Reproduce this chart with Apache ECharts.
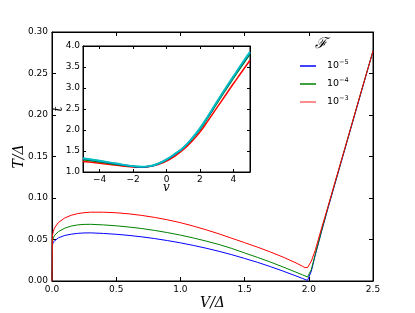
<!DOCTYPE html>
<html><head><meta charset="utf-8">
<script src="https://cdn.jsdelivr.net/npm/echarts@6/dist/echarts.min.js"></script>
<style>html,body{margin:0;padding:0;background:#fff}#c{width:415px;height:313px}</style>
</head><body><div id="c"></div>
<script>
// Main chart: T/Δ vs V/Δ
const V = [0, 0.003, 0.01, 0.02, 0.05, 0.1, 0.15, 0.2, 0.25, 0.3, 0.4, 0.5, 0.6, 0.7, 0.8, 0.9, 1.0, 1.1, 1.2, 1.3, 1.4, 1.5, 1.6, 1.7, 1.8, 1.9, 1.95, 1.97, 1.98, 1.99, 2.0, 2.02, 2.05, 2.1, 2.15, 2.2, 2.3, 2.4, 2.5];
const T_1e5 = [0, 0.043, 0.047, 0.049, 0.052, 0.0549, 0.0564, 0.0574, 0.0579, 0.0580, 0.0573, 0.0563, 0.0549, 0.0532, 0.0511, 0.0487, 0.0460, 0.0429, 0.0395, 0.0358, 0.0317, 0.0272, 0.0225, 0.0174, 0.0119, 0.0061, 0.0031, 0.0019, 0.0013, 0.0007, 0.0, 0.012, 0.031, 0.060, 0.088, 0.115, 0.169, 0.223, 0.277];
const T_1e4 = [0, 0.047, 0.052, 0.055, 0.0595, 0.0637, 0.0662, 0.0676, 0.0682, 0.0683, 0.0676, 0.0665, 0.0650, 0.0632, 0.0609, 0.0583, 0.0553, 0.0519, 0.0481, 0.0440, 0.0392, 0.0338, 0.0285, 0.0229, 0.0169, 0.0106, 0.0075, 0.0062, 0.0055, 0.0048, 0.0040, 0.014, 0.032, 0.061, 0.089, 0.116, 0.170, 0.224, 0.277];
const T_1e3 = [0, 0.054, 0.060, 0.064, 0.0705, 0.0760, 0.0792, 0.0812, 0.0823, 0.0829, 0.0829, 0.0822, 0.0809, 0.0790, 0.0766, 0.0737, 0.0703, 0.0662, 0.0617, 0.0568, 0.0515, 0.0462, 0.0408, 0.0350, 0.0288, 0.0218, 0.0178, 0.0162, 0.0157, 0.0162, 0.0178, 0.024, 0.037, 0.064, 0.090, 0.117, 0.170, 0.224, 0.277];
const seriesNames = ['10^-5', '10^-4', '10^-3'];
const legendTitle = 'ℱ';
// Inset: t vs v
const v = [-5, -4, -3, -2, -1.5, -1, -0.5, 0, 0.5, 1, 1.5, 2, 2.5, 3, 3.5, 4, 4.5, 5];
const t_cyan = [1.33, 1.27, 1.20, 1.14, 1.125, 1.14, 1.20, 1.30, 1.43, 1.58, 1.79, 2.04, 2.34, 2.66, 2.97, 3.27, 3.57, 3.86];
const t_blue = [1.32, 1.26, 1.195, 1.135, 1.122, 1.137, 1.197, 1.295, 1.425, 1.575, 1.785, 2.03, 2.33, 2.65, 2.96, 3.26, 3.56, 3.84];
const t_green = [1.29, 1.24, 1.18, 1.13, 1.12, 1.135, 1.195, 1.29, 1.42, 1.57, 1.77, 2.01, 2.31, 2.62, 2.93, 3.23, 3.52, 3.81];
const t_red = [1.25, 1.21, 1.16, 1.12, 1.115, 1.13, 1.18, 1.26, 1.38, 1.53, 1.72, 1.95, 2.23, 2.52, 2.81, 3.10, 3.38, 3.66];
const insetTicks = [-4, -2, 0, 2, 4];

const zip = (a, b) => a.map((x, i) => [x, b[i]]);
const FONT = 'DejaVu Sans';
const minus = s => String(s).replace('-', '\u2212');

const chart = echarts.init(document.getElementById('c'), null, {renderer: 'canvas'});
const lbl = {fontFamily: FONT, fontSize: 9, color: '#000'};
const frameLine = {show: true, onZero: false, lineStyle: {color: '#000', width: 1}};
const tickIn = (len) => ({show: true, inside: true, length: len, lineStyle: {color: '#000', width: 1}});
const mainLine = (name, d, c, ic) => ({name, type: 'line', xAxisIndex: 0, yAxisIndex: 0, data: zip(V, d),
  showSymbol: false, symbol: 'none', lineStyle: {color: c, width: 1}, itemStyle: {color: ic || c}});
const insetLine = (name, d, c, w) => ({name, type: 'line', xAxisIndex: 2, yAxisIndex: 2, data: zip(v, d), smooth: true, symbol: 'none', lineStyle: {color: c, width: w}});

chart.setOption({
  animation: false,
  backgroundColor: '#fff',
  title: {text: legendTitle, left: 310, top: 32, textStyle: {fontFamily: 'DejaVu Serif', fontStyle: 'italic', fontWeight: 'normal', fontSize: 15, color: '#000'}},
  legend: {
    data: seriesNames, orient: 'vertical', left: 295, top: 54, itemGap: 6,
    itemWidth: 16, itemHeight: 1.5, icon: 'rect',
    formatter: n => '10{s|' + minus(n.split('^')[1]) + '}',
    textStyle: {fontFamily: FONT, fontSize: 9.5, color: '#000', padding: [0, 0, 0, 6],
      rich: {s: {fontFamily: FONT, fontSize: 6.5, color: '#000', padding: [0, 0, 7, 0]}}}
  },
  grid: [
    {left: 52, right: 42, top: 32, bottom: 32, outerBoundsMode: 'none', containLabel: false, show: true, borderColor: '#000', borderWidth: 1, backgroundColor: '#fff'},
    {left: 83, right: 165, top: 46, bottom: 141, outerBoundsMode: 'none', containLabel: false, show: true, borderColor: '#000', borderWidth: 1, backgroundColor: '#fff'}
  ],
  xAxis: [
    {gridIndex: 0, type: 'value', min: 0, max: 2.5, interval: 0.5, axisLine: frameLine, axisTick: tickIn(4), splitLine: {show: false},
      axisLabel: {...lbl, margin: 4, formatter: x => x.toFixed(1)},
      name: 'V/Δ', nameLocation: 'middle', nameGap: 15, nameMoveOverlap: false, nameTextStyle: {fontFamily: 'DejaVu Serif', fontStyle: 'italic', fontSize: 14, color: '#000'}},
    {gridIndex: 0, type: 'value', position: 'top', min: 0, max: 2.5, interval: 0.5, axisLine: frameLine, axisTick: tickIn(4), axisLabel: {show: false}, splitLine: {show: false}},
    {gridIndex: 1, type: 'value', min: -5, max: 5, axisLine: frameLine, axisTick: {...tickIn(3), customValues: insetTicks}, splitLine: {show: false},
      axisLabel: {...lbl, margin: 3, customValues: insetTicks, formatter: x => minus(x)},
      name: 'v', nameLocation: 'middle', nameGap: 10, nameMoveOverlap: false, nameTextStyle: {fontFamily: 'DejaVu Serif', fontStyle: 'italic', fontSize: 12, color: '#000'}},
    {gridIndex: 1, type: 'value', position: 'top', min: -5, max: 5, axisLine: frameLine, axisTick: {...tickIn(3), customValues: insetTicks}, axisLabel: {show: false}, splitLine: {show: false}}
  ],
  yAxis: [
    {gridIndex: 0, type: 'value', min: 0, max: 0.3, interval: 0.05, axisLine: frameLine, axisTick: tickIn(4), splitLine: {show: false},
      axisLabel: {...lbl, margin: 4, formatter: y => y.toFixed(2)},
      name: 'T/Δ', nameLocation: 'middle', nameGap: 26, nameMoveOverlap: false, nameTextStyle: {fontFamily: 'DejaVu Serif', fontStyle: 'italic', fontSize: 14, color: '#000'}},
    {gridIndex: 0, type: 'value', position: 'right', min: 0, max: 0.3, interval: 0.05, axisLine: frameLine, axisTick: tickIn(4), axisLabel: {show: false}, splitLine: {show: false}},
    {gridIndex: 1, type: 'value', min: 1, max: 4, interval: 0.5, axisLine: frameLine, axisTick: tickIn(3), splitLine: {show: false},
      axisLabel: {...lbl, margin: 3, formatter: y => y.toFixed(1)},
      name: 't', nameLocation: 'middle', nameGap: 18, nameMoveOverlap: false, nameTextStyle: {fontFamily: 'DejaVu Serif', fontStyle: 'italic', fontSize: 12, color: '#000'}},
    {gridIndex: 1, type: 'value', position: 'right', min: 1, max: 4, interval: 0.5, axisLine: frameLine, axisTick: tickIn(3), axisLabel: {show: false}, splitLine: {show: false}}
  ],
  series: [
    mainLine(seriesNames[0], T_1e5, '#0000ff'),
    mainLine(seriesNames[1], T_1e4, '#008000'),
    mainLine(seriesNames[2], T_1e3, '#ff0000', '#ff6666'),
    insetLine('inset-red', t_red, '#ff0000', 1.5),
    insetLine('inset-green', t_green, '#008000', 1.5),
    insetLine('inset-blue', t_blue, '#0000ff', 1.5),
    insetLine('inset-cyan', t_cyan, '#00bfbf', 2)
  ]
});
</script></body></html>
